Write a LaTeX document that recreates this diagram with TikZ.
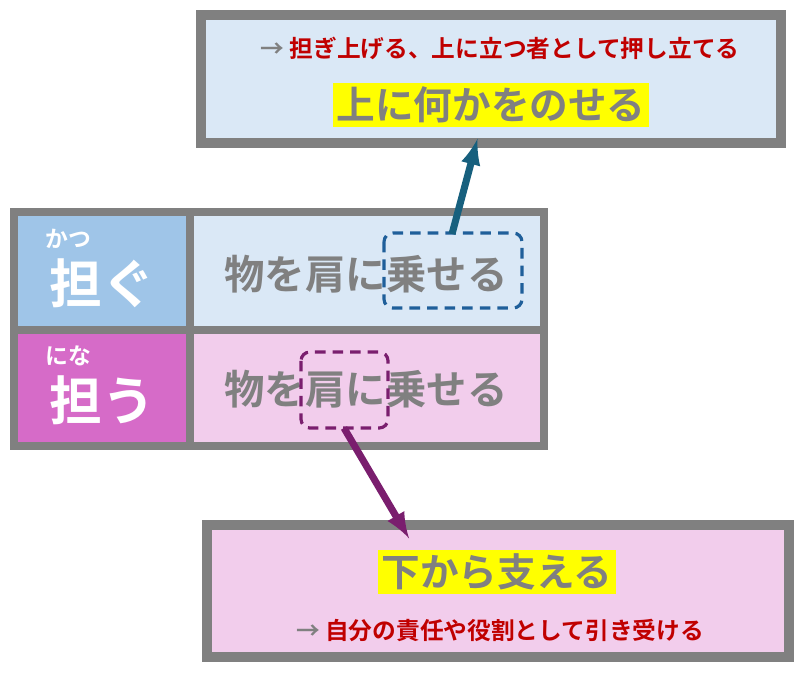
\documentclass[tikz,border=0pt]{standalone}
\usepackage{fontspec}
\setmainfont{Noto Sans CJK JP}
\newfontfamily\jpbold{Noto Sans CJK JP Bold}
\usetikzlibrary{positioning}
\definecolor{frame}{HTML}{808080}
\definecolor{paleblue}{HTML}{DAE8F6}
\definecolor{palepink}{HTML}{F2CDEC}
\definecolor{midblue}{HTML}{9FC5E8}
\definecolor{midpink}{HTML}{D66BC8}
\definecolor{darkred}{HTML}{C00000}
\definecolor{lineblue}{HTML}{1F5F9A}
\definecolor{arrowblue}{HTML}{17607E}
\definecolor{linepurple}{HTML}{7A1E6E}
\definecolor{hilite}{HTML}{FFFF00}
\begin{document}
\begin{tikzpicture}[
    x=0.02cm, y=-0.02cm,
    cell/.style={draw=none, inner sep=0pt, font=\jpbold},
    panel/.style={draw=frame, line width=6pt},
    note/.style={text=darkred, font=\jpbold\fontsize{13.5}{15}\selectfont},
    headline/.style={fill=hilite, text=frame, inner sep=2pt, font=\jpbold\fontsize{22}{26}\selectfont},
    focusbox/.style={dashed, line width=1.8pt, rounded corners=5pt, dash pattern=on 6pt off 4pt},
    pointer/.style={-latex, line width=4pt, shorten >=1pt}
  ]
    \useasboundingbox (0,0) rectangle (800,682);

    % Top panel
    \draw[panel, fill=paleblue] (201,15) rectangle (781,143);
    \node[note] (upnote) at (500,48) {\textcolor{frame}{→} 担ぎ上げる、上に立つ者として押し立てる};
    \node[headline] (upline) at (491,105) {上に何かをのせる};
    \coordinate (uptip) at (478,137);

    % Table
    \fill[frame] (10,208) rectangle (548,450);
    \fill[midblue] (18,216) rectangle (186,326);
    \fill[midpink] (18,334) rectangle (186,442);
    \fill[paleblue] (194,216) rectangle (540,326);
    \fill[palepink] (194,334) rectangle (540,442);
    \node[cell, text=white, font=\jpbold\fontsize{13}{15}\selectfont] (kana1) at (68,239) {かつ};
    \node[cell, text=white, font=\jpbold\fontsize{30}{34}\selectfont] (word1) at (102,283) {担ぐ};
    \node[cell, text=white, font=\jpbold\fontsize{13}{15}\selectfont] (kana2) at (68,356) {にな};
    \node[cell, text=white, font=\jpbold\fontsize{30}{34}\selectfont] (word2) at (102,400) {担う};
    \node[cell, text=frame, font=\jpbold\fontsize{23}{27}\selectfont] (text1) at (366,274) {物を肩に乗せる};
    \node[cell, text=frame, font=\jpbold\fontsize{23}{27}\selectfont] (text2) at (366,389) {物を肩に乗せる};
    \draw[focusbox, draw=lineblue] (384,233) rectangle (522,308);
    \coordinate (box1top) at (452,234);
    \draw[focusbox, draw=linepurple] (301,352) rectangle (388,428);
    \coordinate (box2bot) at (344,428);

    % Bottom panel
    \draw[panel, fill=palepink] (207,525) rectangle (789,657);
    \node[headline] (downline) at (497,572) {下から支える};
    \node[note] (downnote) at (500,630) {\textcolor{frame}{→} 自分の責任や役割として引き受ける};
    \coordinate (downtip) at (410,540);

    % Arrows
    \draw[pointer, arrowblue] (box1top) -- (uptip);
    \draw[pointer, linepurple] (box2bot) -- (downtip);
\end{tikzpicture}
\end{document}
